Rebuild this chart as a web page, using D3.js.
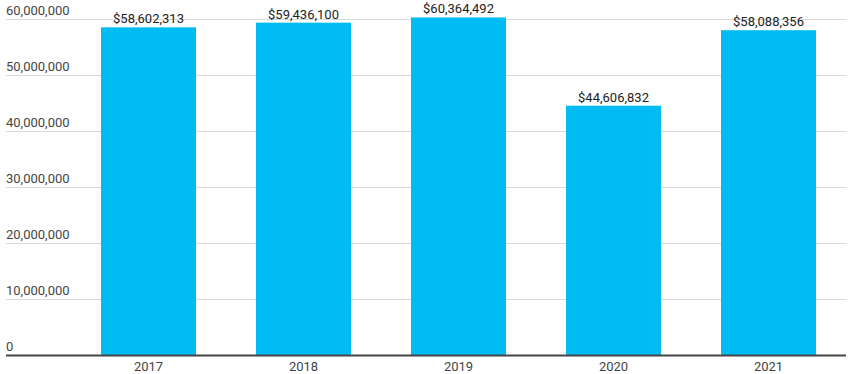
<!DOCTYPE html>
<html>
<head>
<meta charset="utf-8">
<script src="https://cdn.jsdelivr.net/npm/d3@7"></script>
<style>
  body { margin: 0; background: #fff; }
  svg { display: block; font-family: Roboto, sans-serif; }
</style>
</head>
<body>
<script>
// chart data
const years = ["2017", "2018", "2019", "2020", "2021"];
const amounts = [58602313, 59436100, 60364492, 44606832, 58088356];
const yTicks = [0, 10000000, 20000000, 30000000, 40000000, 50000000, 60000000];

const width = 850, height = 374;

let svg = d3.select("body").append("svg")
    .attr("width", width)
    .attr("height", height);

// scales
let x = d3.scaleBand()
    .domain(years)
    .range([71, 846])
    .paddingInner(60 / 155)
    .paddingOuter(30 / 155);

let y = d3.scaleLinear()
    .domain([0, 60000000])
    .range([355.5, 19.5]);

let fmt = d3.format(",");

// gridlines + y labels
let grid = svg.append("g").selectAll("g")
    .data(yTicks)
    .enter().append("g");

grid.filter(d => d > 0).append("line")
    .attr("x1", 6).attr("x2", 846)
    .attr("y1", d => y(d)).attr("y2", d => y(d))
    .attr("stroke", "#d9d9d9")
    .attr("stroke-width", 1);

grid.append("text")
    .attr("x", 6)
    .attr("y", d => y(d) - 5)
    .attr("font-size", 13)
    .attr("fill", "#444")
    .text(d => fmt(d));

// bars
svg.append("g").selectAll("rect")
    .data(amounts)
    .enter().append("rect")
    .attr("x", (d, i) => x(years[i]))
    .attr("width", x.bandwidth())
    .attr("y", d => y(d))
    .attr("height", d => y(0) - y(d))
    .attr("fill", "#00bcf2");

// value labels
svg.append("g").selectAll("text")
    .data(amounts)
    .enter().append("text")
    .attr("x", (d, i) => x(years[i]) + x.bandwidth() / 2)
    .attr("y", d => y(d) - 4)
    .attr("text-anchor", "middle")
    .attr("font-size", 13)
    .attr("fill", "#222")
    .text(d => "$" + fmt(d));

// baseline
svg.append("line")
    .attr("x1", 6).attr("x2", 846)
    .attr("y1", y(0)).attr("y2", y(0))
    .attr("stroke", "#444")
    .attr("stroke-width", 2);

// x axis labels
svg.append("g")
    .attr("transform", "translate(0," + y(0) + ")")
    .call(d3.axisBottom(x).tickSize(0).tickPadding(6))
    .call(g => g.select(".domain").remove())
    .call(g => g.selectAll("text")
        .attr("font-family", "Roboto, sans-serif")
        .attr("font-size", 13)
        .attr("fill", "#444"));
</script>
</body>
</html>
